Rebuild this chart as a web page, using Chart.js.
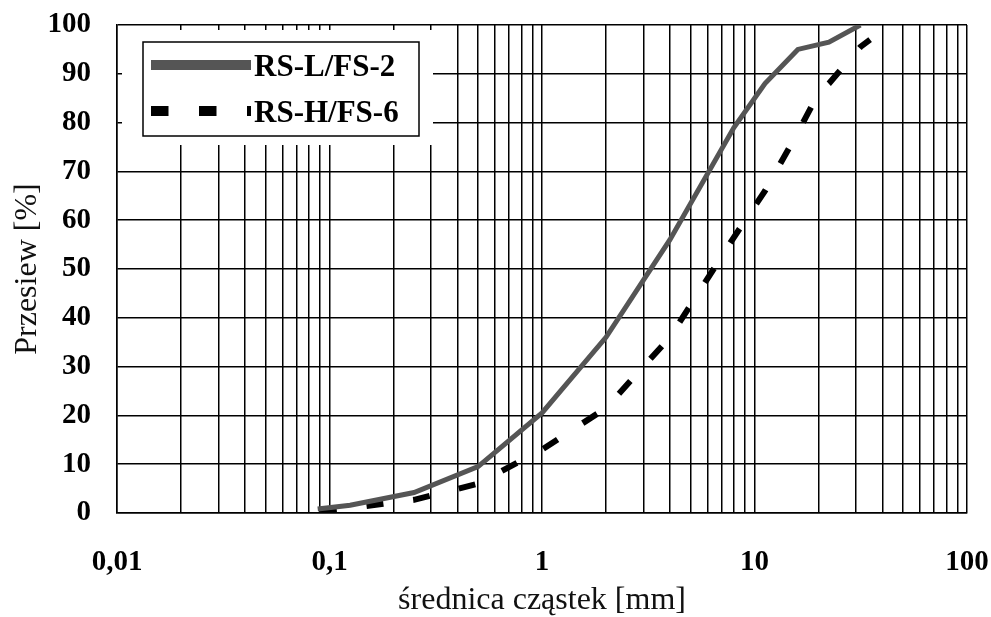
<!DOCTYPE html>
<html>
<head>
<meta charset="utf-8">
<script src="https://cdn.jsdelivr.net/npm/chart.js@4/dist/chart.umd.min.js"></script>
<style>
html,body{margin:0;padding:0;background:#fff;}
#wrap{width:991px;height:617px;position:relative;}
</style>
</head>
<body>
<div id="wrap"><canvas id="c"></canvas></div>
<script>
// ---- data ----
const seriesNames = ['RS-L/FS-2', 'RS-H/FS-6'];
const sizesL = [0.088, 0.125, 0.25, 0.5, 1, 2, 4, 8, 11.2, 16, 22.4, 31.5];
const passL  = [0.8,   1.6,   4.2,  9.5, 20.5, 36, 56, 79, 88, 95, 96.5, 100];
const sizesH = [0.09, 0.125, 0.25, 0.5, 1, 2, 4, 8, 11.2, 16, 20, 22.4, 31.5, 35];
const passH  = [0.5,  1,     2.7,  6,   13, 21.5, 36, 56.5, 66, 78, 86, 88, 95.5, 97];
const xMajorValues = [0.01, 0.1, 1, 10, 100];
const xTickLabels = ['0,01', '0,1', '1', '10', '100'];
const xTitle = 'średnica cząstek [mm]';
const yTitle = 'Przesiew [%]';

const toPts = (xs, ys) => xs.map((x, i) => ({x: x, y: ys[i]}));

const SERIF = "'Liberation Serif', 'Times New Roman', serif";

const legendPlugin = {
  id: 'boxLegend',
  beforeDatasetsDraw(chart) {
    const ctx = chart.ctx;
    const a = chart.chartArea;
    ctx.save();
    // white background covering the grid
    ctx.fillStyle = '#fff';
    ctx.fillRect(a.left + 5, a.top + 5, 311, 115);
    // box
    ctx.strokeStyle = '#000';
    ctx.lineWidth = 1.5;
    ctx.strokeRect(a.left + 26, a.top + 17, 276, 94);
    // sample 1 solid
    ctx.lineWidth = 10;
    ctx.lineCap = 'butt';
    ctx.strokeStyle = '#555';
    ctx.beginPath();
    ctx.moveTo(a.left + 34, a.top + 40);
    ctx.lineTo(a.left + 134, a.top + 40);
    ctx.stroke();
    // sample 2 dashed
    ctx.strokeStyle = '#000';
    ctx.setLineDash([17.5, 30.5]);
    ctx.beginPath();
    ctx.moveTo(a.left + 34, a.top + 86);
    ctx.lineTo(a.left + 134, a.top + 86);
    ctx.stroke();
    ctx.setLineDash([]);
    // texts
    ctx.fillStyle = '#000';
    ctx.font = 'bold 31px ' + SERIF;
    ctx.textAlign = 'left';
    ctx.textBaseline = 'middle';
    ctx.fillText(seriesNames[0], a.left + 137, a.top + 43);
    ctx.fillText(seriesNames[1], a.left + 137, a.top + 89);
    ctx.restore();
  }
};

new Chart(document.getElementById('c'), {
  type: 'line',
  data: {
    datasets: [
      {
        label: seriesNames[0],
        data: toPts(sizesL, passL),
        borderColor: '#555',
        borderWidth: 5,
        pointRadius: 0,
        tension: 0,
        fill: false
      },
      {
        label: seriesNames[1],
        data: toPts(sizesH, passH),
        borderColor: '#000',
        borderWidth: 6,
        borderDash: [17, 30],
        borderCapStyle: 'butt',
        pointRadius: 0,
        tension: 0,
        fill: false
      }
    ]
  },
  options: {
    responsive: true,
    maintainAspectRatio: false,
    animation: false,
    events: [],
    layout: {padding: {top: 25, right: 24, left: 0, bottom: 0}},
    plugins: {legend: {display: false}, tooltip: {enabled: false}, title: {display: false}},
    scales: {
      x: {
        type: 'logarithmic',
        min: 0.01,
        max: 100,
        afterBuildTicks(scale) {
          const t = [];
          for (let d = 0; d < xMajorValues.length - 1; d++) {
            for (let k = 1; k <= 9; k++) t.push({value: +(xMajorValues[d] * k).toPrecision(3)});
          }
          t.push({value: xMajorValues[xMajorValues.length - 1]});
          scale.ticks = t;
        },
        afterFit(scale) { scale.height = 104; scale.paddingLeft = 0; scale.paddingRight = 0; },
        grid: {color: '#000', lineWidth: 1.5, drawTicks: false},
        border: {color: '#000', width: 1.5},
        ticks: {
          autoSkip: false,
          maxRotation: 0,
          padding: 32,
          color: '#000',
          font: {family: SERIF, size: 29, weight: 'bold'},
          callback(value) {
            const i = xMajorValues.findIndex(v => Math.abs(v - value) / v < 1e-6);
            return i >= 0 ? xTickLabels[i] : '';
          }
        },
        title: {
          display: true,
          text: xTitle,
          color: '#111',
          font: {family: SERIF, size: 32, weight: 'normal', lineHeight: 1},
          padding: {top: 1, bottom: 0}
        }
      },
      y: {
        min: 0,
        max: 100,
        afterFit(scale) { scale.width = 117; scale.paddingTop = 0; scale.paddingBottom = 0; },
        grid: {color: '#000', lineWidth: 1.5, drawTicks: false},
        border: {color: '#000', width: 1.5},
        ticks: {
          stepSize: 10,
          padding: 26,
          color: '#000',
          font: {family: SERIF, size: 29, weight: 'bold'}
        },
        title: {
          display: true,
          text: yTitle,
          color: '#111',
          font: {family: SERIF, size: 32, weight: 'normal', lineHeight: 1},
          padding: {top: 12, bottom: 12}
        }
      }
    }
  },
  plugins: [legendPlugin]
});
</script>
</body>
</html>
